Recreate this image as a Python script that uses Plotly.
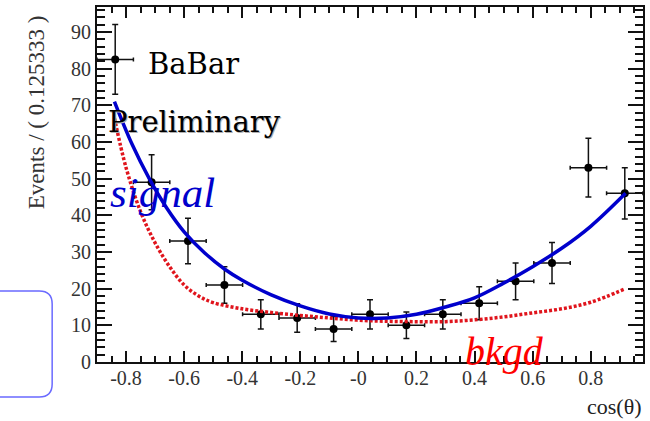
import plotly.graph_objects as go

# Binned cos(theta) distribution: bin centres, counts and uncertainties
bin_centers = [-0.8373, -0.7120, -0.5867, -0.4613, -0.3360, -0.2107, -0.0853,
               0.0400, 0.1653, 0.2907, 0.4160, 0.5413, 0.6667, 0.7920, 0.9173]
bin_half_width = [0.0627] * 15
events = [82.5, 49, 33, 21, 13, 12, 9, 13, 10, 13, 16, 22, 27, 53, 46]
event_err = [9.5, 7.5, 6.2, 5.0, 4.0, 3.9, 3.4, 4.0, 3.6, 4.0, 4.5, 5.0, 5.6, 8.0, 7.0]

# Fitted signal + background shape
signal_x = [-0.84, -0.78, -0.72, -0.66, -0.60, -0.53, -0.46, -0.40, -0.30, -0.20, -0.10,
            0.00, 0.10, 0.20, 0.30, 0.40, 0.50, 0.60, 0.70, 0.80, 0.92]
signal_y = [71, 59.5, 50, 42, 35.5, 29.8, 25.3, 22.3, 18.3, 15.3, 13.1,
            12, 12, 13, 15, 17.5, 21.5, 26, 31, 37, 46]

# Background-only component
bkgd_x = [-0.84, -0.80, -0.75, -0.70, -0.65, -0.60, -0.55, -0.50, -0.40, -0.30, -0.20,
          -0.10, 0.00, 0.10, 0.20, 0.30, 0.40, 0.50, 0.60, 0.70, 0.80, 0.92]
bkgd_y = [66.5, 53, 41, 32.5, 26, 21, 18, 16.2, 14.5, 13.5, 12.7,
          12, 11.4, 11.1, 11, 11, 11.5, 12.3, 13.4, 14.5, 16.3, 20]

x_tickvals = [-0.8, -0.6, -0.4, -0.2, 0.0, 0.2, 0.4, 0.6, 0.8]
x_ticktext = ["-0.8", "-0.6", "-0.4", "-0.2", "-0", "0.2", "0.4", "0.6", "0.8"]
y_tickvals = [0, 10, 20, 30, 40, 50, 60, 70, 80, 90]

W, H = 650, 421
ML, MR, MT, MB = 97, 5, 7, 59
PW, PH = W - ML - MR, H - MT - MB


def px(x):
    return (x - ML) / PW


def py(y):
    return (H - MB - y) / PH


SERIF = "Liberation Serif, Times New Roman, serif"
WIDE_SERIF = "DejaVu Serif, serif"

fig = go.Figure()

fig.add_trace(go.Scatter(
    x=bin_centers, y=events, mode="markers",
    marker=dict(color="black", size=8),
    error_x=dict(type="data", array=bin_half_width, color="#111", thickness=1.5, width=2),
    error_y=dict(type="data", array=event_err, color="#111", thickness=1.5, width=3),
    showlegend=False,
))

fig.add_trace(go.Scatter(
    x=bkgd_x, y=bkgd_y, mode="lines", line_shape="spline",
    line=dict(color="#e0141c", width=3.5, dash="3px,2px"),
    showlegend=False,
))

fig.add_trace(go.Scatter(
    x=signal_x, y=signal_y, mode="lines", line_shape="spline",
    line=dict(color="#0000cc", width=3.5),
    showlegend=False,
))

annotations = [
    dict(text="BaBar", x=px(146), y=py(64), xanchor="left", yanchor="middle",
         font=dict(family=WIDE_SERIF, size=29, color="black")),
    dict(text="Preliminary", x=px(107), y=py(123), xanchor="left", yanchor="middle",
         font=dict(family=WIDE_SERIF, size=29, color="#b0b0b0")),
    dict(text="Preliminary", x=px(106), y=py(122), xanchor="left", yanchor="middle",
         font=dict(family=WIDE_SERIF, size=29, color="black")),
    dict(text="<i>signal</i>", x=px(108), y=py(192), xanchor="left", yanchor="middle",
         font=dict(family=SERIF, size=43, color="#0000cc")),
    dict(text="<i>bkgd</i>", x=px(464), y=py(351), xanchor="left", yanchor="middle",
         font=dict(family=SERIF, size=40, color="#ff0000")),
    dict(text="Events / ( 0.125333 )", x=px(36), y=py(112), textangle=-90,
         xanchor="center", yanchor="middle",
         font=dict(family=SERIF, size=23, color="#333")),
    dict(text="cos(θ)", x=px(646), y=py(406), xanchor="right", yanchor="middle",
         font=dict(family=SERIF, size=22, color="#222")),
]
for a in annotations:
    a.update(xref="paper", yref="paper", showarrow=False)

# Rounded frame at the lower left
x0, x1, y0, y1, r = -10, 52, 291, 397, 13
box_path = (
    f"M {px(x0)},{py(y0)} L {px(x1 - r)},{py(y0)} "
    f"Q {px(x1)},{py(y0)} {px(x1)},{py(y0 + r)} "
    f"L {px(x1)},{py(y1 - r)} "
    f"Q {px(x1)},{py(y1)} {px(x1 - r)},{py(y1)} "
    f"L {px(x0)},{py(y1)}"
)

fig.update_layout(
    width=W, height=H,
    margin=dict(l=ML, r=MR, t=MT, b=MB, pad=0),
    paper_bgcolor="white", plot_bgcolor="white",
    annotations=annotations,
    shapes=[dict(type="path", path=box_path, xref="paper", yref="paper",
                 line=dict(color="#6a6aff", width=1.5))],
    xaxis=dict(
        range=[-0.9, 0.98], showgrid=False, zeroline=False,
        showline=True, linecolor="#111", linewidth=2, mirror="allticks",
        ticks="inside", ticklen=11, tickwidth=1.5, tickcolor="#111",
        tickmode="array", tickvals=x_tickvals, ticktext=x_ticktext,
        tickfont=dict(family=SERIF, size=20, color="#333"),
        ticklabelstandoff=-3,
        minor=dict(ticks="inside", ticklen=6, tickwidth=1.5, tickcolor="#111",
                   tick0=0, dtick=0.05, showgrid=False),
    ),
    yaxis=dict(
        range=[0, 96.8], showgrid=False, zeroline=False,
        showline=True, linecolor="#111", linewidth=2, mirror="allticks",
        ticks="inside", ticklen=15, tickwidth=1.5, tickcolor="#111",
        tickmode="array", tickvals=y_tickvals,
        tickfont=dict(family=SERIF, size=20, color="#333"),
        minor=dict(ticks="inside", ticklen=8, tickwidth=1.5, tickcolor="#111",
                   tick0=0, dtick=2, showgrid=False),
    ),
)

fig.write_html("out.html")
